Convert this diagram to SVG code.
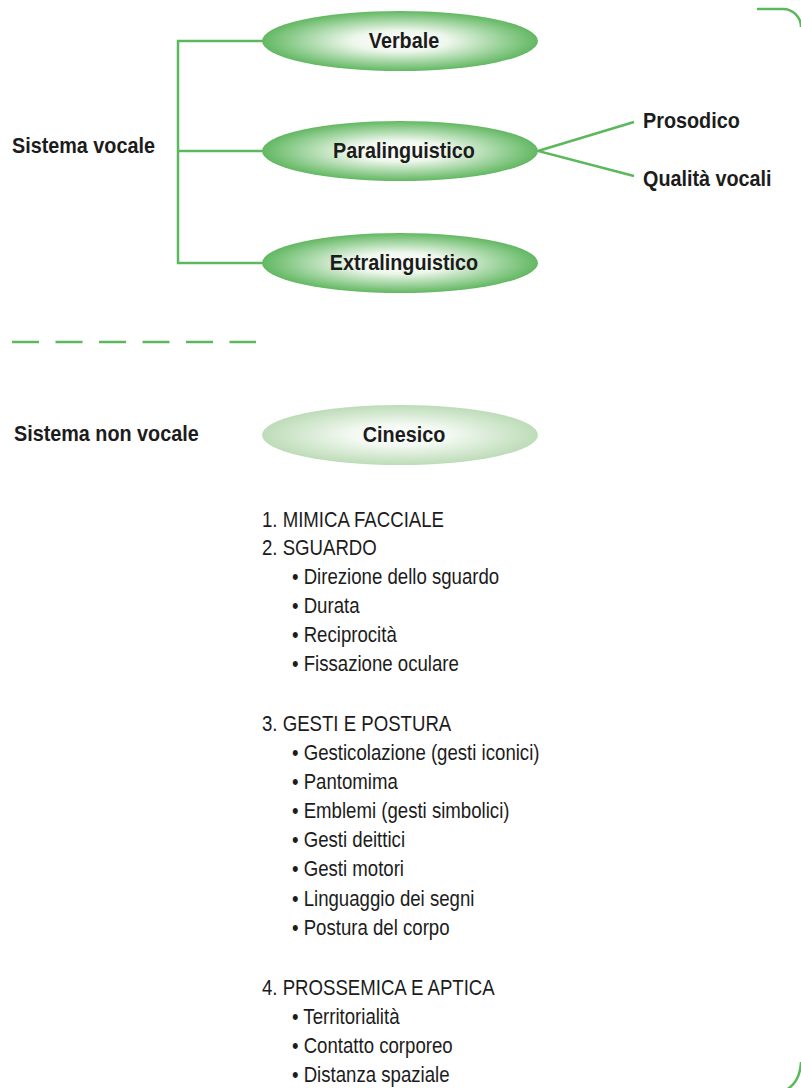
<svg xmlns="http://www.w3.org/2000/svg" width="801" height="1088" viewBox="0 0 801 1088">
<defs>
<radialGradient id="gGreen" cx="50%" cy="50%" r="50%">
<stop offset="0" stop-color="#ffffff"/>
<stop offset="0.35" stop-color="#eef7ec"/>
<stop offset="1" stop-color="#62b862"/>
</radialGradient>
<radialGradient id="gPale" cx="50%" cy="50%" r="50%">
<stop offset="0" stop-color="#ffffff"/>
<stop offset="0.35" stop-color="#f3f9f2"/>
<stop offset="1" stop-color="#bddcb8"/>
</radialGradient>
<style>
.ln{fill:none;stroke:#5cb85c;stroke-width:2.5}
.b{font-family:"Liberation Sans",Arial,sans-serif;font-weight:bold;font-size:22px;fill:#1c1c1c}
.t{font-family:"Liberation Sans",Arial,sans-serif;font-size:23px;fill:#1c1c1c}
.c{text-anchor:middle}
</style>
</defs>
<g id="connectors">
<path class="ln" d="M263,41 H178 V263 H263 M178,151 H263"/>
<path class="ln" d="M634,122 L538,151 L634,176"/>
<path class="ln" d="M12,342 H256" stroke-dasharray="27 16.5"/>
<path class="ln" d="M757,9 H783 A18,18 0 0 1 801,27"/>
<path class="ln" d="M801,1062 Q800,1082 786,1090"/>
</g>
<g id="sistema-vocale"><text class="b" transform="translate(12,153) scale(0.9,1)">Sistema vocale</text></g>
<g id="verbale"><ellipse cx="400" cy="41" rx="138" ry="30" fill="url(#gGreen)"/><text class="b c" transform="translate(404,48) scale(0.9,1)">Verbale</text></g>
<g id="paralinguistico"><ellipse cx="400" cy="151" rx="138" ry="30" fill="url(#gGreen)"/><text class="b c" transform="translate(404,158) scale(0.9,1)">Paralinguistico</text></g>
<g id="extralinguistico"><ellipse cx="400" cy="263" rx="138" ry="30" fill="url(#gGreen)"/><text class="b c" transform="translate(404,270) scale(0.9,1)">Extralinguistico</text></g>
<g id="prosodico"><text class="b" transform="translate(643,128) scale(0.9,1)">Prosodico</text></g>
<g id="qualita"><text class="b" transform="translate(643,186) scale(0.9,1)">Qualità vocali</text></g>
<g id="sistema-non-vocale"><text class="b" transform="translate(14,441) scale(0.9,1)">Sistema non vocale</text></g>
<g id="cinesico"><ellipse cx="400" cy="435" rx="138" ry="30" fill="url(#gPale)"/><text class="b c" transform="translate(404,442) scale(0.9,1)">Cinesico</text></g>
<g id="list" class="t">
<text transform="translate(262,527) scale(0.81,1)">1. MIMICA FACCIALE</text>
<text transform="translate(262,555) scale(0.81,1)">2. SGUARDO</text>
<text transform="translate(292,584) scale(0.81,1)">• Direzione dello sguardo</text>
<text transform="translate(292,613) scale(0.81,1)">• Durata</text>
<text transform="translate(292,642) scale(0.81,1)">• Reciprocità</text>
<text transform="translate(292,671) scale(0.81,1)">• Fissazione oculare</text>
<text transform="translate(262,731) scale(0.81,1)">3. GESTI E POSTURA</text>
<text transform="translate(292,760) scale(0.81,1)">• Gesticolazione (gesti iconici)</text>
<text transform="translate(292,789) scale(0.81,1)">• Pantomima</text>
<text transform="translate(292,818) scale(0.81,1)">• Emblemi (gesti simbolici)</text>
<text transform="translate(292,847) scale(0.81,1)">• Gesti deittici</text>
<text transform="translate(292,876) scale(0.81,1)">• Gesti motori</text>
<text transform="translate(292,906) scale(0.81,1)">• Linguaggio dei segni</text>
<text transform="translate(292,935) scale(0.81,1)">• Postura del corpo</text>
<text transform="translate(262,995) scale(0.81,1)">4. PROSSEMICA E APTICA</text>
<text transform="translate(292,1024) scale(0.81,1)">• Territorialità</text>
<text transform="translate(292,1053) scale(0.81,1)">• Contatto corporeo</text>
<text transform="translate(292,1082) scale(0.81,1)">• Distanza spaziale</text>
</g>
</svg>
